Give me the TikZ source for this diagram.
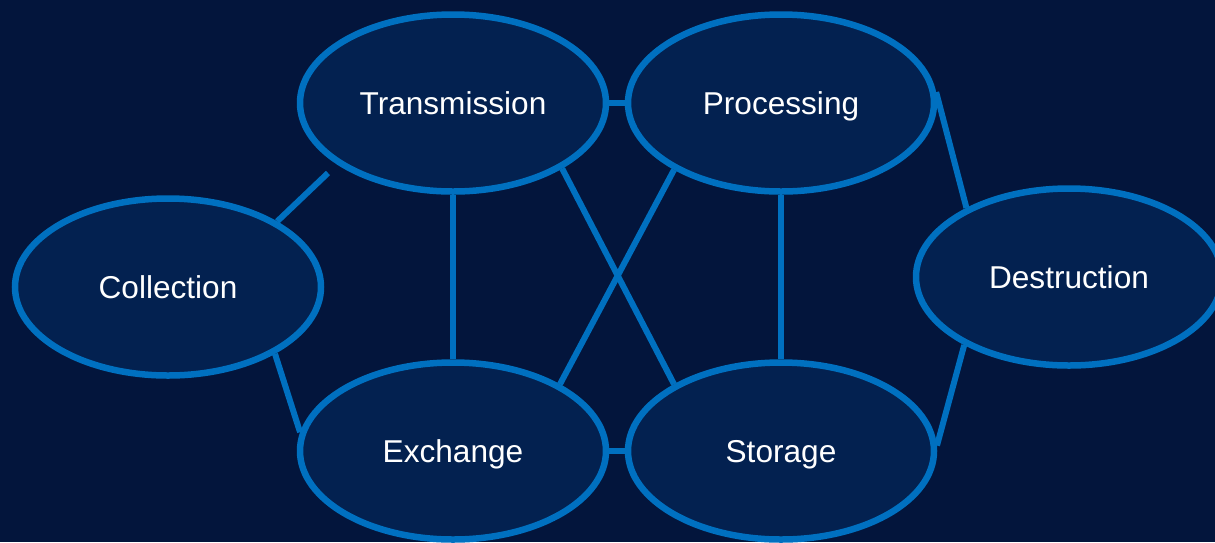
\documentclass[tikz,border=0pt]{standalone}
\usepackage{fontspec}
\setmainfont{Liberation Sans}
\usetikzlibrary{shapes.geometric}
\definecolor{bgnavy}{RGB}{3,21,60}
\definecolor{cellfill}{RGB}{3,33,80}
\definecolor{edgeblue}{RGB}{0,112,192}
\tikzset{
  stage/.style={ellipse, draw=edgeblue, fill=cellfill, line width=6.5pt,
    minimum width=306pt, minimum height=177pt, inner sep=0pt,
    text=white, font=\fontsize{31.6}{38}\selectfont,
    text height=22.6pt, text depth=0pt},
  link/.style={draw=edgeblue, line width=6pt}
}
\begin{document}
\begin{tikzpicture}[x=1pt, y=-1pt]
  \useasboundingbox (0,0) rectangle (1215,542);
  \clip (0,0) rectangle (1215,542);
  \fill[bgnavy] (0,0) rectangle (1215,542);

  % life-cycle stages
  \node[stage] (coll) at (168,287) {Collection};
  \node[stage] (trans) at (453,103) {Transmission};
  \node[stage] (proc) at (781,103) {Processing};
  \node[stage] (exch) at (453,451) {Exchange};
  \node[stage] (stor) at (781,451) {Storage};
  \node[stage] (dest) at (1069,277) {Destruction};

  % connections between stages
  \coordinate (collfree) at (328,173);
  \draw[link] (coll.31) -- (collfree);
  \draw[link] (coll.-32) -- (exch.173);
  \draw[link] (trans.east) -- (proc.west);
  \draw[link] (exch.east) -- (stor.west);
  \draw[link] (trans.south) -- (exch.north);
  \draw[link] (proc.south) -- (stor.north);
  \draw[link] (trans.-31) -- (stor.148);
  \draw[link] (proc.212) -- (exch.32);
  \draw[link] (proc.4) -- (dest.146);
  \draw[link] (dest.213) -- (stor.2);
\end{tikzpicture}
\end{document}
